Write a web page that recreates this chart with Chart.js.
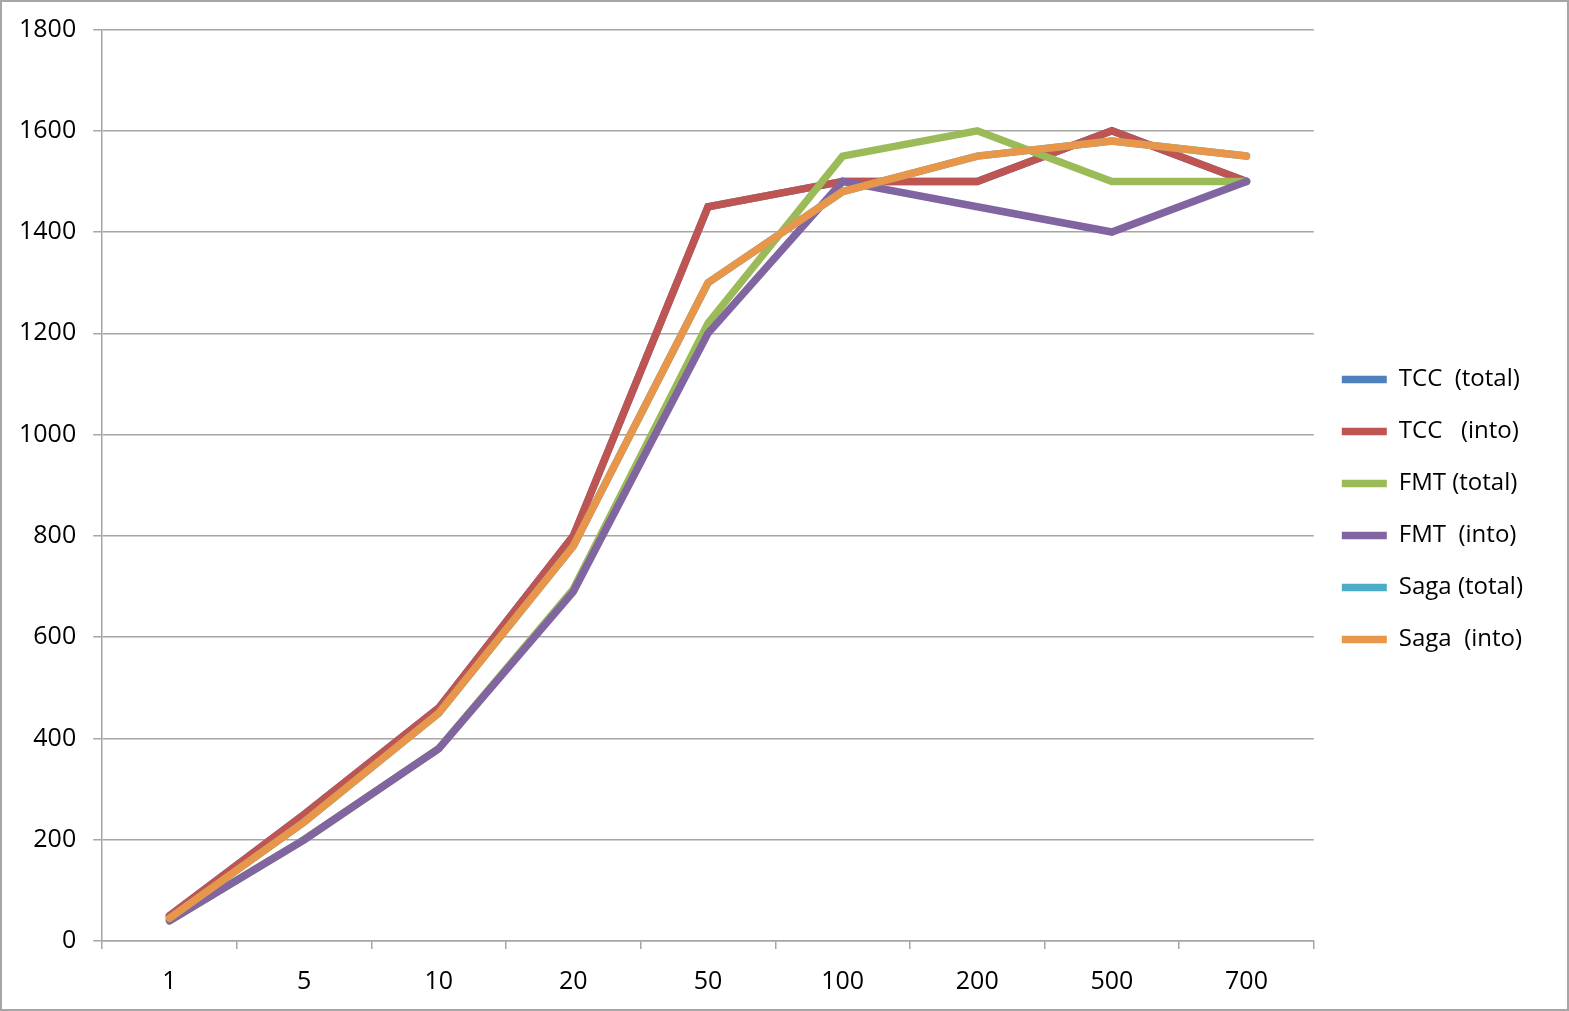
<!DOCTYPE html>
<html lang="en">
<head>
  <meta charset="UTF-8">
  <title>TCC / FMT / Saga</title>
  <script src="https://cdn.jsdelivr.net/npm/chart.js"></script>
  <style>
    html, body {
      margin: 0;
      padding: 0;
      background: #ffffff;
    }
    #container {
      width: 1569px;
      height: 1011px;
      position: relative;
      overflow: hidden;
    }
    #frame {
      position: absolute;
      left: 0;
      top: 0;
      right: 0;
      bottom: 0;
      border: 2px solid #a6a6a6;
      pointer-events: none;
    }
    canvas {
      display: block;
    }
  </style>
</head>
<body>

  <div id="container">
    <canvas id="myChart" width="1569" height="1011"></canvas>
    <div id="frame"></div>
  </div>

  <script>
    var categories = ['1', '5', '10', '20', '50', '100', '200', '500', '700'];

    var tccTotal  = [50, 250, 460, 800, 1450, 1500, 1500, 1600, 1500];
    var tccInto   = [50, 250, 460, 800, 1450, 1500, 1500, 1600, 1500];
    var fmtTotal  = [40, 200, 380, 695, 1220, 1550, 1600, 1500, 1500];
    var fmtInto   = [40, 200, 380, 690, 1200, 1500, 1450, 1400, 1500];
    var sagaTotal = [45, 235, 450, 780, 1300, 1480, 1550, 1580, 1550];
    var sagaInto  = [45, 235, 450, 780, 1300, 1480, 1550, 1580, 1550];

    var seriesNames = ['TCC  (total)', 'TCC   (into)', 'FMT (total)', 'FMT  (into)', 'Saga (total)', 'Saga  (into)'];
    var seriesData = [tccTotal, tccInto, fmtTotal, fmtInto, sagaTotal, sagaInto];
    var seriesColors = ['#4f81bd', '#be5552', '#9bbb59', '#8165a1', '#4bacc6', '#e8964a'];

    var yTicks = [0, 200, 400, 600, 800, 1000, 1200, 1400, 1600, 1800];

    // later series are painted over earlier ones, like the spreadsheet does
    var datasets = seriesNames.map(function (name, i) {
      return {
        label: name,
        data: seriesData[i],
        order: seriesNames.length - i,
        borderColor: seriesColors[i],
        backgroundColor: seriesColors[i],
        borderWidth: 7.5,
        borderCapStyle: 'round',
        borderJoinStyle: 'miter',
        pointRadius: 0,
        pointHoverRadius: 0,
        tension: 0,
        pointStyle: 'line'
      };
    });

    var family = "'Open Sans', 'Liberation Sans', sans-serif";
    var yFont = { family: family, size: 25, lineHeight: 1 };
    // x labels hang below the axis; a short line height keeps the axis box tight
    var xFont = { family: family, size: 25, lineHeight: 0.12 };
    var legendFont = { family: family, size: 24 };

    // move the legend block up a little so it sits where the original has it
    var legendNudge = {
      id: 'legendNudge',
      afterLayout: function (chart) {
        if (chart.legend) {
          chart.legend.top -= 7;
          chart.legend.bottom -= 7;
        }
      }
    };

    var ctx = document.getElementById('myChart').getContext('2d');
    var myChart = new Chart(ctx, {
      type: 'line',
      data: {
        labels: categories,
        datasets: datasets
      },
      plugins: [legendNudge],
      options: {
        responsive: false,
        animation: false,
        layout: {
          padding: { top: 29, left: 2, right: 36, bottom: 7 }
        },
        plugins: {
          tooltip: { enabled: false },
          legend: {
            position: 'right',
            reverse: true,
            labels: {
              usePointStyle: true,
              pointStyleWidth: 45,
              padding: 28,
              color: '#000000',
              font: legendFont
            }
          }
        },
        scales: {
          x: {
            offset: true,
            afterFit: function (scale) {
              scale.height -= 10;
            },
            grid: {
              offset: true,
              drawOnChartArea: false,
              color: '#a6a6a6',
              lineWidth: 1.5,
              tickLength: 8
            },
            border: { color: '#a6a6a6', width: 1.5 },
            ticks: {
              color: '#000000',
              font: xFont,
              padding: 31,
              maxRotation: 0
            }
          },
          y: {
            min: 0,
            max: 1800,
            afterBuildTicks: function (axis) {
              axis.ticks = yTicks.map(function (v) { return { value: v }; });
            },
            grid: {
              color: '#a6a6a6',
              lineWidth: 1.5,
              tickLength: 9
            },
            border: { color: '#a6a6a6', width: 1.5 },
            ticks: {
              color: '#000000',
              font: yFont,
              padding: 17,
              callback: function (value) { return String(value); }
            }
          }
        }
      }
    });
  </script>

</body>
</html>
